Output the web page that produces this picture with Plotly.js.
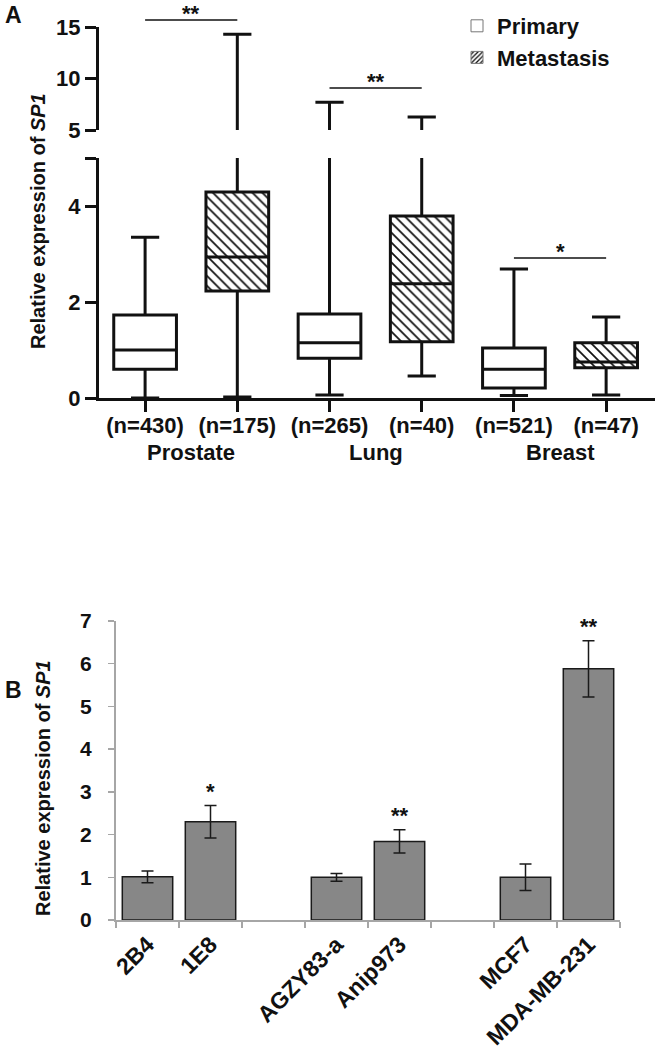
<!DOCTYPE html>
<html>
<head>
<meta charset="utf-8">
<script src="https://cdn.plot.ly/plotly-3.0.1.min.js"></script>
<style>
  html, body { margin: 0; padding: 0; background: #fff; }
  #chart { width: 658px; height: 1052px; }
</style>
</head>
<body>
<div id="chart"></div>
<script>
// ---------- Panel A data (box statistics) ----------
const groupsA = ['Prostate', 'Lung', 'Breast'];
const nLabelsA = ['(n=430)', '(n=175)', '(n=265)', '(n=40)', '(n=521)', '(n=47)'];
const primaryLow    = [0.00, 0.06, 0.05];
const primaryQ1     = [0.60, 0.83, 0.21];
const primaryMedian = [1.00, 1.15, 0.60];
const primaryQ3     = [1.73, 1.75, 1.04];
const primaryHigh   = [3.35, 7.70, 2.69];
const metaLow       = [0.02, 0.46, 0.06];
const metaQ1        = [2.23, 1.17, 0.63];
const metaMedian    = [2.94, 2.38, 0.75];
const metaQ3        = [4.29, 3.79, 1.15];
const metaHigh      = [14.3, 6.26, 1.69];
const sigA = ['**', '**', '*'];

// ---------- Panel B data ----------
const cellLines = ['2B4', '1E8', 'AGZY83-a', 'Anip973', 'MCF7', 'MDA-MB-231'];
const exprB     = [1.01, 2.30, 1.00, 1.84, 1.00, 5.88];
const errB      = [0.14, 0.38, 0.09, 0.27, 0.31, 0.66];
const sigB      = ['', '*', '', '**', '', '**'];
const axisOrderB = ['2B4', '1E8', ' ', 'AGZY83-a', 'Anip973', '  ', 'MCF7', 'MDA-MB-231'];

// ---------- helpers ----------
const W = 658, H = 1052;
const px = v => v / W;
const py = v => 1 - v / H;
const FONT = 'Arial, "Liberation Sans", sans-serif';
const boldFont = (size, color) => ({family: FONT, size: size, color: color || '#111', weight: 'bold'});

const primX = groupsA.map((g, i) => 2 * i);
const metaX = groupsA.map((g, i) => 2 * i + 1);
const BOXW = 0.68;

function boxTrace(name, xs, low, q1, med, q3, high, fill, yaxis) {
  return {
    type: 'box', name: name, x: xs,
    lowerfence: low, q1: q1, median: med, q3: q3, upperfence: high,
    width: BOXW, whiskerwidth: 0.45, boxpoints: false,
    fillcolor: fill, line: {color: '#111', width: 3},
    xaxis: 'x', yaxis: yaxis, showlegend: false, hoverinfo: 'skip'
  };
}

const traces = [];
// hatch fill for metastasis boxes (drawn below the box outlines)
traces.push({
  type: 'bar', x: metaX, base: metaQ1, y: metaQ3.map((v, i) => v - metaQ1[i]),
  width: BOXW, xaxis: 'x', yaxis: 'y', showlegend: false, hoverinfo: 'skip',
  marker: {color: 'rgba(255,255,255,0)', line: {width: 0},
           pattern: {shape: '\\', fgcolor: '#111', bgcolor: 'rgba(255,255,255,0)', size: 7, solidity: 0.25}}
});
// legend proxies
traces.push({type: 'bar', name: 'Primary', x: [null], y: [null], xaxis: 'x', yaxis: 'y',
  marker: {color: '#fff', line: {color: '#777', width: 1}}, showlegend: true});
traces.push({type: 'bar', name: 'Metastasis', x: [null], y: [null], xaxis: 'x', yaxis: 'y',
  marker: {color: '#fff', line: {color: '#777', width: 1},
           pattern: {shape: '/', fgcolor: '#111', bgcolor: '#fff', size: 4, solidity: 0.4}}, showlegend: true});
// boxes on lower and upper (broken) axes
['y', 'y2'].forEach(ya => {
  traces.push(boxTrace('Primary', primX, primaryLow, primaryQ1, primaryMedian, primaryQ3, primaryHigh, '#fff', ya));
  traces.push(boxTrace('Metastasis', metaX, metaLow, metaQ1, metaMedian, metaQ3, metaHigh, 'rgba(255,255,255,0)', ya));
});
// panel B bars
traces.push({
  type: 'bar', x: cellLines, y: exprB, xaxis: 'x3', yaxis: 'y3', showlegend: false,
  marker: {color: '#878787', line: {color: '#1a1a1a', width: 1.5}},
  error_y: {type: 'data', array: errB, visible: true, color: '#1a1a1a', thickness: 1.5, width: 6},
  hoverinfo: 'skip'
});

const annotations = [
  {text: 'A', x: px(3), y: py(15), xref: 'paper', yref: 'paper', xanchor: 'left', yanchor: 'middle', showarrow: false, font: boldFont(23)},
  {text: 'B', x: px(3), y: py(690), xref: 'paper', yref: 'paper', xanchor: 'left', yanchor: 'middle', showarrow: false, font: boldFont(23)},
  {text: 'Relative expression of <i>SP1</i>', x: px(38), y: py(221), xref: 'paper', yref: 'paper', textangle: -90,
   xanchor: 'center', yanchor: 'middle', showarrow: false, font: boldFont(20)},
  {text: 'Relative expression of <i>SP1</i>', x: px(43), y: py(788), xref: 'paper', yref: 'paper', textangle: -90,
   xanchor: 'center', yanchor: 'middle', showarrow: false, font: boldFont(20)}
];
groupsA.forEach((g, i) => {
  annotations.push({text: g, x: 2 * i + 0.5, xref: 'x', y: py(452), yref: 'paper', showarrow: false,
    xanchor: 'center', yanchor: 'middle', font: boldFont(22)});
});
const sigLineY = [20, 88, 258];
const shapes = [];
sigA.forEach((s, i) => {
  shapes.push({type: 'line', xref: 'x', yref: 'paper', x0: 2 * i, x1: 2 * i + 1,
    y0: py(sigLineY[i]), y1: py(sigLineY[i]), line: {color: '#111', width: 1.5}});
  annotations.push({text: s, x: 2 * i + 0.5, xref: 'x', y: py(sigLineY[i]), yref: 'paper', showarrow: false,
    xanchor: 'center', yanchor: 'bottom', font: boldFont(22), yshift: -8});
});
cellLines.forEach((c, i) => {
  if (!sigB[i]) return;
  annotations.push({text: sigB[i], x: axisOrderB.indexOf(c), xref: 'x3', y: exprB[i] + errB[i], yref: 'y3', showarrow: false,
    xanchor: 'center', yanchor: 'bottom', font: boldFont(22), yshift: 0});
});

const axA = {
  showline: true, linecolor: '#111', linewidth: 3, ticks: 'outside', ticklen: 11, tickwidth: 3, tickcolor: '#111',
  showgrid: false, zeroline: false, tickfont: boldFont(22), fixedrange: true
};
const axB = {
  showline: true, linecolor: '#a6a6a6', linewidth: 2, ticks: 'outside', ticklen: 6, tickwidth: 1.5, tickcolor: '#a6a6a6',
  showgrid: false, zeroline: false, tickfont: boldFont(21), fixedrange: true
};

const layout = {
  width: W, height: H, margin: {l: 0, r: 0, t: 0, b: 0},
  paper_bgcolor: '#fff', plot_bgcolor: 'rgba(0,0,0,0)',
  barmode: 'overlay', boxmode: 'overlay', hovermode: false,
  showlegend: true,
  legend: {x: px(457), y: py(5), xanchor: 'left', yanchor: 'top', bgcolor: 'rgba(0,0,0,0)',
           font: boldFont(22), tracegroupgap: 0, itemwidth: 30},
  xaxis: Object.assign({}, axA, {domain: [px(99), px(655)], range: [-0.5, 5.53], anchor: 'y',
    tickvals: primX.concat(metaX).sort((a, b) => a - b), ticktext: nLabelsA, ticklabelstandoff: -5}),
  yaxis: Object.assign({}, axA, {domain: [py(398), py(158)], range: [0, 5], anchor: 'x',
    tickvals: [0, 2, 4, 5], ticktext: ['0', '2', '4', '']}),
  yaxis2: Object.assign({}, axA, {domain: [py(130), py(27)], range: [5, 15], anchor: 'x',
    tickvals: [5, 10, 15]}),
  xaxis3: Object.assign({}, axB, {domain: [px(116), px(620)], anchor: 'y3', type: 'category',
    categoryorder: 'array', categoryarray: axisOrderB, range: [-0.5, 7.5], tickson: 'boundaries', tickangle: -45,
    tickfont: boldFont(23)}),
  yaxis3: Object.assign({}, axB, {domain: [py(920), py(621)], range: [0, 7], anchor: 'x3', dtick: 1,
    ticklabelstandoff: 12}),
  annotations: annotations,
  shapes: shapes
};

Plotly.newPlot('chart', traces, layout, {displayModeBar: false, staticPlot: true});
</script>
</body>
</html>
